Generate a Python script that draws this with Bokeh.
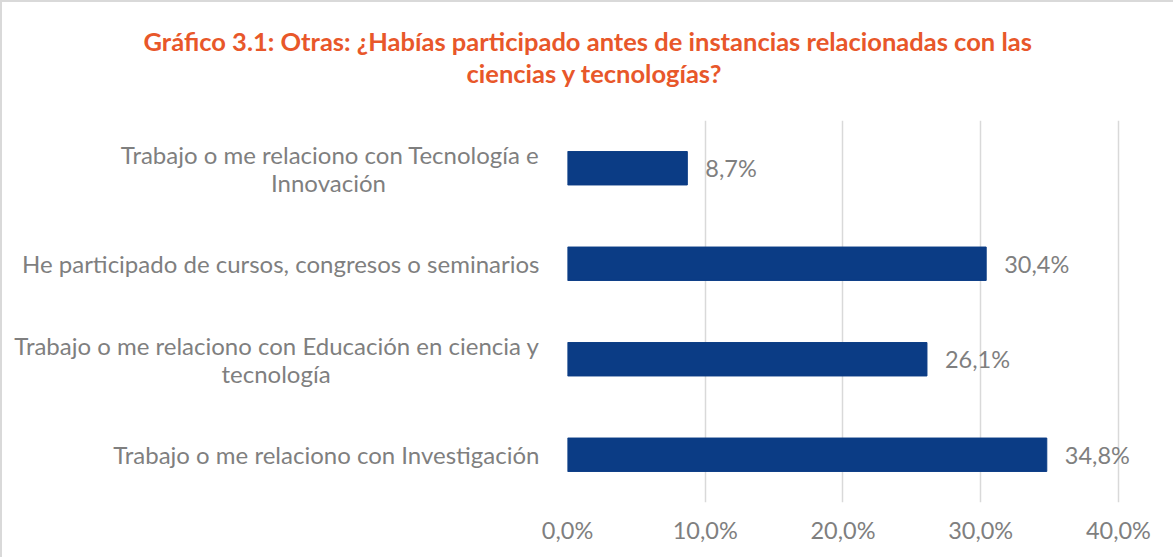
from bokeh.plotting import figure
from bokeh.models import FactorRange, Range1d, FixedTicker, Title, ColumnDataSource
from bokeh.core.properties import value
from bokeh.embed import file_html
from bokeh.resources import INLINE

NB = "\u00a0"
categories = [
    "Trabajo o me relaciono con Tecnología e\nInnovación" + NB * 25,
    "He participado de cursos, congresos o seminarios",
    "Trabajo o me relaciono con Educación en ciencia y\ntecnología" + NB * 34,
    "Trabajo o me relaciono con Investigación",
]
values = [8.7, 30.4, 26.1, 34.8]
value_labels = ["8,7%", "30,4%", "26,1%", "34,8%"]
x_ticks = [0, 10, 20, 30, 40]
x_tick_labels = ["0,0%", "10,0%", "20,0%", "30,0%", "40,0%"]
title_line1 = "Gráfico 3.1: Otras: ¿Habías participado antes de instancias relacionadas con las"
title_line2 = "ciencias y tecnologías?"

FONT = "Lato"
GRAY = "#7F7F7F"
BAR = "#0B3C85"
ORANGE = "#E8572A"

src = ColumnDataSource(dict(cat=categories, val=values, lab=value_labels))

p = figure(width=1173, height=557, output_backend="svg", toolbar_location=None,
           y_range=FactorRange(factors=list(reversed(categories))),
           x_range=Range1d(0, 44),
           min_border_left=565, min_border_right=2, min_border_top=118, min_border_bottom=57)
p.title = None

p.hbar(y="cat", right="val", left=0, height=0.35, source=src, color=BAR)
p.text(x="val", y="cat", text="lab", source=src, x_offset=18, text_baseline="middle",
       text_align="left", text_color=GRAY, text_font=value(FONT), text_font_size="23.5px")

spacer = Title(text=" ", text_font_size="2px", standoff=29)
t2 = Title(text=title_line2, align="left", offset=-101, standoff=0, text_color=ORANGE,
           text_font=FONT, text_font_size="25.5px", text_font_style="bold")
t1 = Title(text=title_line1, align="left", offset=-424, standoff=0, text_color=ORANGE,
           text_font=FONT, text_font_size="25.5px", text_font_style="bold")
p.add_layout(spacer, "above")
p.add_layout(t2, "above")
p.add_layout(t1, "above")

p.outline_line_color = None
p.ygrid.grid_line_color = None
p.xgrid.grid_line_color = "#D9D9D9"
p.xgrid.grid_line_width = 1.5
p.xaxis.ticker = FixedTicker(ticks=x_ticks)
p.xaxis.major_label_overrides = {t: l for t, l in zip(x_ticks, x_tick_labels)}
for ax in (p.xaxis, p.yaxis):
    ax.axis_line_color = None
    ax.major_tick_line_color = None
    ax.minor_tick_line_color = None
    ax.major_label_text_color = GRAY
    ax.major_label_text_font = FONT
    ax.major_label_text_font_size = "23.5px"
p.yaxis.major_label_text_font_size = "24px"
p.yaxis.major_label_text_line_height = 0.95
p.xaxis.major_label_standoff = 7
p.yaxis.major_label_standoff = 22
p.styles = {"border-top": "2px solid #D9D9D9", "border-left": "2px solid #D9D9D9"}

open("out.html", "w").write(file_html(p, INLINE))
